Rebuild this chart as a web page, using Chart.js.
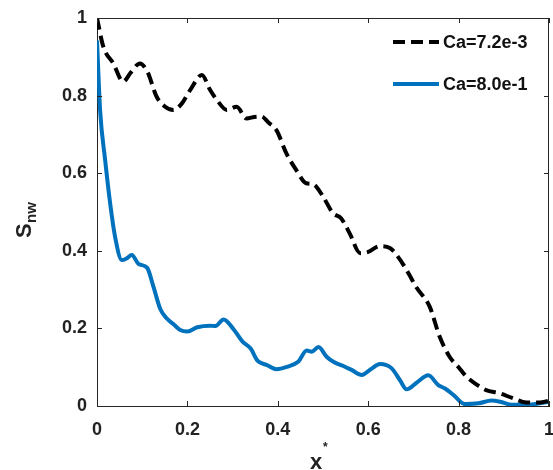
<!DOCTYPE html>
<html>
<head>
<meta charset="utf-8">
<script src="https://cdn.jsdelivr.net/npm/chart.js@4.4.1/dist/chart.umd.min.js"></script>
<style>
  html, body { margin: 0; padding: 0; background: #fff; }
</style>
</head>
<body>
<canvas id="myChart" width="553" height="470"></canvas>
<script>
// tick values for both axes
var xTicks = [0, 0.2, 0.4, 0.6, 0.8, 1];
var yTicks = [0, 0.2, 0.4, 0.6, 0.8, 1];

// Ca=7.2e-3 (dashed black)
var xLow = [0, 0.014, 0.036, 0.058, 0.075, 0.095, 0.112, 0.132, 0.15, 0.169, 0.188, 0.206, 0.232, 0.25, 0.265, 0.287,
            0.309, 0.331, 0.348, 0.364, 0.38, 0.397, 0.419, 0.441, 0.463, 0.478, 0.5, 0.522, 0.54, 0.559, 0.582,
            0.6, 0.625, 0.648, 0.67, 0.69, 0.706, 0.736, 0.758, 0.78, 0.8, 0.817, 0.84, 0.861, 0.89, 0.92, 0.95, 0.98, 1];
var yLow = [1.0, 0.926, 0.883, 0.836, 0.86, 0.883, 0.86, 0.797, 0.772, 0.763, 0.78, 0.814, 0.853, 0.815, 0.789, 0.763,
            0.771, 0.741, 0.745, 0.746, 0.73, 0.711, 0.651, 0.608, 0.574, 0.572, 0.54, 0.497, 0.484, 0.445, 0.394,
            0.397, 0.412, 0.407, 0.378, 0.34, 0.307, 0.256, 0.179, 0.127, 0.1, 0.076, 0.055, 0.041, 0.033, 0.02, 0.009, 0.009, 0.014];

// Ca=8.0e-1 (solid blue)
var xHigh = [0, 0.007, 0.018, 0.029, 0.04, 0.055, 0.065, 0.077, 0.092, 0.111, 0.125, 0.14, 0.154, 0.17, 0.184, 0.2,
             0.222, 0.25, 0.262, 0.28, 0.302, 0.322, 0.34, 0.355, 0.375, 0.397, 0.42, 0.445, 0.464, 0.475, 0.49,
             0.508, 0.523, 0.545, 0.563, 0.586, 0.605, 0.626, 0.652, 0.67, 0.685, 0.707, 0.733, 0.755, 0.77, 0.789,
             0.814, 0.844, 0.873, 0.892, 0.918, 0.951, 0.98, 1];
var yHigh = [0.942, 0.76, 0.634, 0.523, 0.436, 0.376, 0.38, 0.389, 0.366, 0.356, 0.307, 0.25, 0.226, 0.21, 0.196, 0.192,
             0.203, 0.207, 0.206, 0.223, 0.198, 0.166, 0.148, 0.117, 0.106, 0.095, 0.101, 0.114, 0.143, 0.14, 0.152,
             0.127, 0.114, 0.103, 0.093, 0.08, 0.094, 0.108, 0.097, 0.067, 0.043, 0.06, 0.079, 0.054, 0.045, 0.028,
             0.005, 0.007, 0.014, 0.011, 0.003, 0.003, 0.007, 0.011];

var labels = ['Ca=7.2e-3', 'Ca=8.0e-1'];

function pts(xs, ys) {
    return xs.map(function (x, i) { return { x: x, y: ys[i] }; });
}

var axisColor = '#262626';
var fontFam = '"Liberation Sans", Arial, Helvetica, sans-serif';

// box, inner ticks, legend and axis titles
var decor = {
    id: 'decor',
    afterDraw: function (chart) {
        var c = chart.ctx, a = chart.chartArea;
        var sx = chart.scales.x, sy = chart.scales.y;
        c.save();
        c.strokeStyle = axisColor;
        c.lineWidth = 1;
        c.beginPath();
        c.moveTo(a.left, a.top + 0.5); c.lineTo(a.right, a.top + 0.5);
        c.moveTo(a.right - 0.5, a.top); c.lineTo(a.right - 0.5, a.bottom);
        xTicks.forEach(function (v) {
            var px = Math.round(sx.getPixelForValue(v)) + 0.5;
            c.moveTo(px, a.bottom); c.lineTo(px, a.bottom - 5);
            c.moveTo(px, a.top); c.lineTo(px, a.top + 5);
        });
        yTicks.forEach(function (v) {
            var py = Math.round(sy.getPixelForValue(v)) + 0.5;
            c.moveTo(a.left, py); c.lineTo(a.left + 5, py);
            c.moveTo(a.right, py); c.lineTo(a.right - 5, py);
        });
        c.stroke();

        // legend
        c.font = 'bold 18px ' + fontFam;
        c.textBaseline = 'middle';
        c.fillStyle = '#111';
        chart.data.datasets.forEach(function (ds, i) {
            var ly = a.top + 24 + i * 42;
            c.beginPath();
            c.strokeStyle = ds.borderColor;
            c.lineWidth = ds.borderWidth;
            c.setLineDash(ds.borderDash || []);
            c.moveTo(a.right - 156, ly); c.lineTo(a.right - 110, ly);
            c.stroke();
            c.setLineDash([]);
            c.fillText(ds.label, a.right - 106, ly + 1);
        });

        // y title: S with subscript nw
        c.fillStyle = '#222';
        c.save();
        c.translate(31, (a.top + a.bottom) / 2 + 12);
        c.rotate(-Math.PI / 2);
        c.textAlign = 'left';
        c.textBaseline = 'alphabetic';
        c.font = 'bold 22px ' + fontFam;
        c.fillText('S', -14, 0);
        c.font = 'bold 15px ' + fontFam;
        c.fillText('nw', 1, 5);
        c.restore();

        // x title: x with superscript *
        c.textBaseline = 'alphabetic';
        c.textAlign = 'left';
        c.font = 'bold 22px ' + fontFam;
        c.fillText('x', 310, 469);
        c.font = 'bold 12px ' + fontFam;
        c.fillText('*', 323, 451);
        c.restore();
    }
};

var ctx = document.getElementById('myChart').getContext('2d');
var chart = new Chart(ctx, {
    type: 'line',
    data: {
        datasets: [{
            label: labels[0],
            data: pts(xLow, yLow),
            borderColor: '#000000',
            borderWidth: 4,
            borderDash: [12, 6],
            cubicInterpolationMode: 'monotone',
            pointRadius: 0,
            fill: false
        }, {
            label: labels[1],
            data: pts(xHigh, yHigh),
            borderColor: '#0072BD',
            borderWidth: 4,
            cubicInterpolationMode: 'monotone',
            pointRadius: 0,
            fill: false
        }]
    },
    options: {
        responsive: false,
        animation: false,
        layout: { padding: { top: 18, right: 4, left: 0, bottom: 0 } },
        plugins: {
            legend: { display: false },
            tooltip: { enabled: false }
        },
        scales: {
            x: {
                type: 'linear',
                min: 0, max: 1,
                afterBuildTicks: function (s) { s.ticks = xTicks.map(function (v) { return { value: v }; }); },
                afterFit: function (s) { s.height = 64; s.paddingLeft = 0; s.paddingRight = 0; },
                grid: { display: false, drawTicks: false },
                border: { display: true, color: axisColor, width: 1 },
                ticks: {
                    padding: 13,
                    color: '#222',
                    font: { family: fontFam, size: 18, weight: 'bold' },
                    maxRotation: 0,
                    callback: function (v) { return String(+v.toFixed(1)); }
                }
            },
            y: {
                min: 0, max: 1,
                afterBuildTicks: function (s) { s.ticks = yTicks.map(function (v) { return { value: v }; }); },
                afterFit: function (s) { s.width = 97; s.paddingTop = 0; s.paddingBottom = 0; },
                grid: { display: false, drawTicks: false },
                border: { display: true, color: axisColor, width: 1 },
                ticks: {
                    padding: 10,
                    color: '#222',
                    font: { family: fontFam, size: 18, weight: 'bold' },
                    callback: function (v) { return String(+v.toFixed(1)); }
                }
            }
        }
    },
    plugins: [decor]
});
</script>
</body>
</html>
